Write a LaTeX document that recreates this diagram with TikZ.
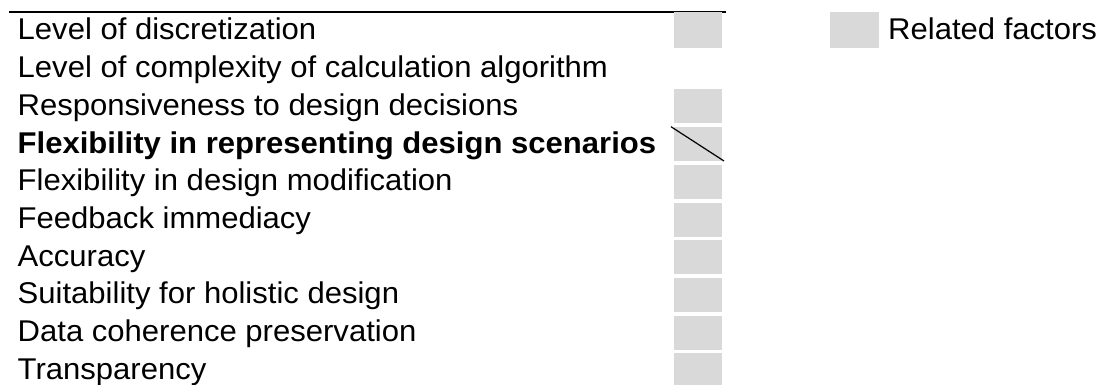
\documentclass[tikz,border=0pt]{standalone}
\usepackage{fontspec}
\setmainfont[FakeStretch=1.035]{Liberation Sans}
\definecolor{factorgray}{HTML}{D9D9D9}
\begin{document}
\begin{tikzpicture}[x=1pt,y=-1pt,
  label/.style={anchor=base west,inner sep=0pt,font=\fontsize{30}{35}\selectfont},
  factor/.style={fill=factorgray,draw=none},
  rule/.style={line width=2pt},
  slash/.style={line width=1.2pt}]
\useasboundingbox (0,0) rectangle (1100,385);
% top rule
\coordinate (ruleL) at (9,12.5);
\coordinate (ruleR) at (726,12.5);
\draw[rule] (ruleL) -- (ruleR);
% row labels
\foreach \t [count=\i from 0] in {%
  Level of discretization,
  Level of complexity of calculation algorithm,
  Responsiveness to design decisions,
  {\bfseries Flexibility in representing design scenarios},
  Flexibility in design modification,
  Feedback immediacy,
  Accuracy,
  Suitability for holistic design,
  Data coherence preservation,
  Transparency}
  \node[label] (row\i) at (17.5,40+37.7*\i) {\t};
% related-factor boxes
\fill[factor] (674,12.5) rectangle (722,48);
\foreach \i in {2,...,9}
  \fill[factor] (674,48+37.7*\i-34) rectangle (722,48+37.7*\i);
% crossed-out box
\coordinate (sA) at (671,126.7);
\coordinate (sB) at (724,161);
\draw[slash] (sA) -- (sB);
% legend
\fill[factor] (830,12.5) rectangle (878.7,48);
\node[label] (legend) at (888,40) {Related factors};
\end{tikzpicture}
\end{document}
